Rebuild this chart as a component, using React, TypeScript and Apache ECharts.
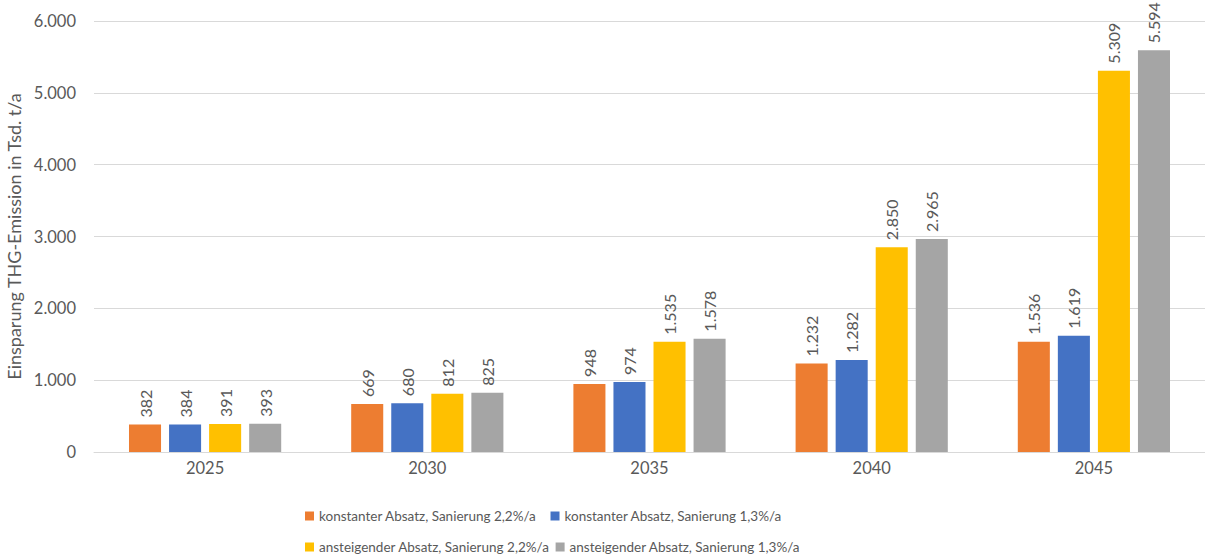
import React, { useEffect, useRef } from "react";
import * as echarts from "echarts";

const categories = ["2025", "2030", "2035", "2040", "2045"];
const seriesNames = [
  "konstanter Absatz, Sanierung 2,2%/a",
  "konstanter Absatz, Sanierung 1,3%/a",
  "ansteigender Absatz, Sanierung 2,2%/a",
  "ansteigender Absatz, Sanierung 1,3%/a",
];
const konstant22 = [382, 669, 948, 1232, 1536];
const konstant13 = [384, 680, 974, 1282, 1619];
const ansteigend22 = [391, 812, 1535, 2850, 5309];
const ansteigend13 = [393, 825, 1578, 2965, 5594];
const colors = ["#ED7D31", "#4472C4", "#FFC000", "#A5A5A5"];

const FONT = "Lato, 'Open Sans', sans-serif";
const TXT = "#595959";

const fmt = (v: number) => String(v).replace(/\B(?=(\d{3})+(?!\d))/g, ".");

export default function App() {
  const ref = useRef<HTMLDivElement>(null);
  useEffect(() => {
    if (!ref.current) return;
    const chart = echarts.init(ref.current, undefined, { renderer: "svg" });
    const data = [konstant22, konstant13, ansteigend22, ansteigend13];
    chart.setOption({
      animation: false,
      textStyle: { fontFamily: FONT },
      grid: {
        left: 94,
        right: 0,
        top: 21,
        bottom: 105,
        containLabel: false,
        outerBoundsMode: "none",
      },
      legend: [
        {
          data: seriesNames.slice(0, 2),
          left: 300,
          top: 504,
          orient: "horizontal",
          itemWidth: 9,
          itemHeight: 9,
          itemGap: 14,
          icon: "rect",
          textStyle: { color: TXT, fontSize: 13.5, fontFamily: FONT },
        },
        {
          data: seriesNames.slice(2, 4),
          left: 300,
          top: 535,
          orient: "horizontal",
          itemWidth: 9,
          itemHeight: 9,
          itemGap: 6,
          icon: "rect",
          textStyle: { color: TXT, fontSize: 13.5, fontFamily: FONT },
        },
      ],
      xAxis: {
        type: "category",
        data: categories,
        axisLine: { lineStyle: { color: "#D9D9D9", width: 1 } },
        axisTick: { show: false },
        axisLabel: { color: TXT, fontSize: 16.5, margin: 7, fontFamily: FONT },
      },
      yAxis: {
        type: "value",
        min: 0,
        max: 6000,
        interval: 1000,
        name: "Einsparung THG-Emission in Tsd. t/a",
        nameLocation: "middle",
        nameGap: 59,
        nameTextStyle: { color: TXT, fontSize: 18, fontFamily: FONT },
        axisLine: { show: false },
        axisTick: { show: false },
        axisLabel: {
          color: TXT,
          fontSize: 16.5,
          margin: 18,
          fontFamily: FONT,
          formatter: (v: number) => fmt(v),
        },
        splitLine: { lineStyle: { color: "#D9D9D9", width: 1 } },
      },
      series: data.map((d, i) => ({
        name: seriesNames[i],
        type: "bar",
        data: d,
        barGap: "25%",
        barCategoryGap: "31.5%",
        itemStyle: { color: colors[i] },
        label: {
          show: true,
          position: "top",
          rotate: 90,
          align: "left",
          verticalAlign: "middle",
          distance: 7,
          color: TXT,
          fontSize: 16,
          fontFamily: FONT,
          formatter: (p: any) => fmt(p.value),
        },
      })),
    });
    return () => chart.dispose();
  }, []);
  return (
    <div
      ref={ref}
      style={{ position: "absolute", left: 0, top: 0, width: 1205, height: 557 }}
    />
  );
}
